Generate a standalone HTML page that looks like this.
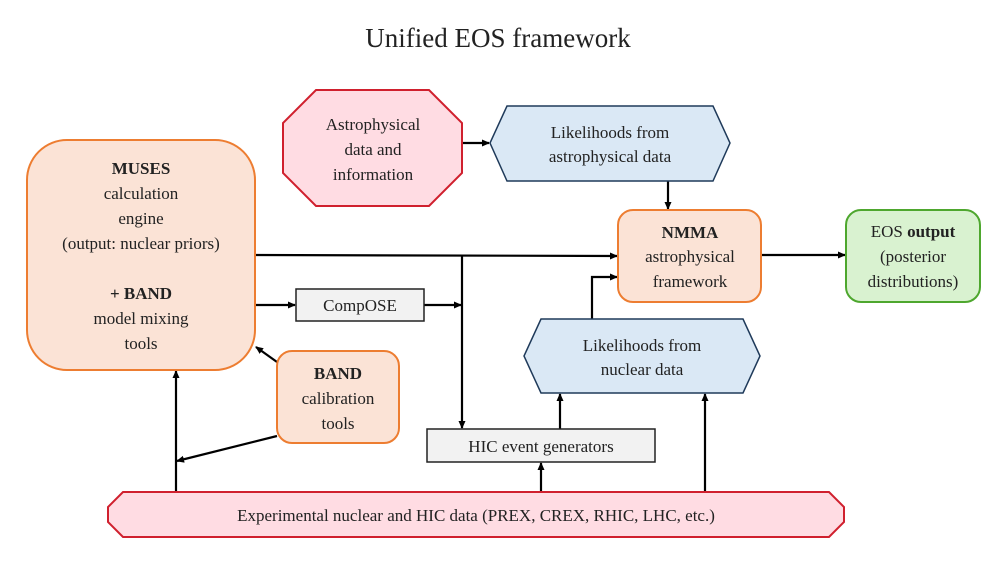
<!DOCTYPE html>
<html><head><meta charset="utf-8"><style>
html,body{margin:0;padding:0;background:#fff;}
svg text{font-family:"Liberation Serif",serif;fill:#222;}
</style></head><body>
<svg width="997" height="561" viewBox="0 0 997 561" xmlns="http://www.w3.org/2000/svg">
<defs>
<marker id="a" markerWidth="8" markerHeight="8" refX="7" refY="4" orient="auto" markerUnits="userSpaceOnUse">
<path d="M0,0.5 L8,4 L0,7.5 Z" fill="#000"/></marker>
</defs>
<text x="498" y="47" font-size="27" text-anchor="middle">Unified EOS framework</text>

<g stroke="#000" stroke-width="2.2" fill="none">
<line x1="462" y1="143" x2="489" y2="143" marker-end="url(#a)"/>
<line x1="668" y1="181" x2="668" y2="209" marker-end="url(#a)"/>
<line x1="255" y1="255" x2="617" y2="256" marker-end="url(#a)"/>
<line x1="462" y1="255" x2="462" y2="428" marker-end="url(#a)"/>
<line x1="255" y1="305" x2="295" y2="305" marker-end="url(#a)"/>
<line x1="424" y1="305" x2="461" y2="305" marker-end="url(#a)"/>
<polyline points="592,319 592,277 617,277" marker-end="url(#a)"/>
<line x1="761" y1="255" x2="845" y2="255" marker-end="url(#a)"/>
<line x1="560" y1="429" x2="560" y2="394" marker-end="url(#a)"/>
<line x1="541" y1="492" x2="541" y2="463" marker-end="url(#a)"/>
<line x1="705" y1="492" x2="705" y2="394" marker-end="url(#a)"/>
<line x1="176" y1="492" x2="176" y2="371" marker-end="url(#a)"/>
<line x1="277" y1="362" x2="256" y2="347" marker-end="url(#a)"/>
<line x1="277" y1="436" x2="177" y2="461" marker-end="url(#a)"/>
</g>

<rect x="27" y="140" width="228" height="230" rx="40" fill="#fbe3d6" stroke="#ed7d31" stroke-width="2"/>
<polygon points="316,90 429,90 462,123 462,173 429,206 316,206 283,173 283,123" fill="#ffdce3" stroke="#d0202e" stroke-width="2"/>
<polygon points="507,106 713,106 730,143 713,181 507,181 490,143" fill="#dae8f5" stroke="#1f3a5a" stroke-width="1.5"/>
<rect x="618" y="210" width="143" height="92" rx="15" fill="#fbe3d6" stroke="#ed7d31" stroke-width="2"/>
<rect x="846" y="210" width="134" height="92" rx="15" fill="#d9f2d0" stroke="#4ea72e" stroke-width="2"/>
<rect x="296" y="289" width="128" height="32" fill="#f2f2f2" stroke="#222" stroke-width="1.5"/>
<polygon points="541,319 743,319 760,356 743,393 541,393 524,356" fill="#dae8f5" stroke="#1f3a5a" stroke-width="1.5"/>
<rect x="277" y="351" width="122" height="92" rx="15" fill="#fbe3d6" stroke="#ed7d31" stroke-width="2"/>
<rect x="427" y="429" width="228" height="33" fill="#f2f2f2" stroke="#222" stroke-width="1.5"/>
<polygon points="123,492 829,492 844,507 844,522 829,537 123,537 108,522 108,507" fill="#ffdce3" stroke="#d0202e" stroke-width="2"/>

<g font-size="17" text-anchor="middle">
<text x="141" y="174" font-weight="bold">MUSES</text>
<text x="141" y="199">calculation</text>
<text x="141" y="224">engine</text>
<text x="141" y="249">(output: nuclear priors)</text>
<text x="141" y="299" font-weight="bold">+ BAND</text>
<text x="141" y="324">model mixing</text>
<text x="141" y="349">tools</text>
<text x="373" y="130">Astrophysical</text>
<text x="373" y="155">data and</text>
<text x="373" y="180">information</text>
<text x="610" y="138">Likelihoods from</text>
<text x="610" y="162">astrophysical data</text>
<text x="690" y="238" font-weight="bold">NMMA</text>
<text x="690" y="262">astrophysical</text>
<text x="690" y="287">framework</text>
<text x="913" y="237"><tspan>EOS </tspan><tspan font-weight="bold">output</tspan></text>
<text x="913" y="262">(posterior</text>
<text x="913" y="287">distributions)</text>
<text x="360" y="311">CompOSE</text>
<text x="642" y="351">Likelihoods from</text>
<text x="642" y="375">nuclear data</text>
<text x="338" y="379" font-weight="bold">BAND</text>
<text x="338" y="404">calibration</text>
<text x="338" y="429">tools</text>
<text x="541" y="452">HIC event generators</text>
<text x="476" y="521">Experimental nuclear and HIC data (PREX, CREX, RHIC, LHC, etc.)</text>
</g>
</svg>
</body></html>
